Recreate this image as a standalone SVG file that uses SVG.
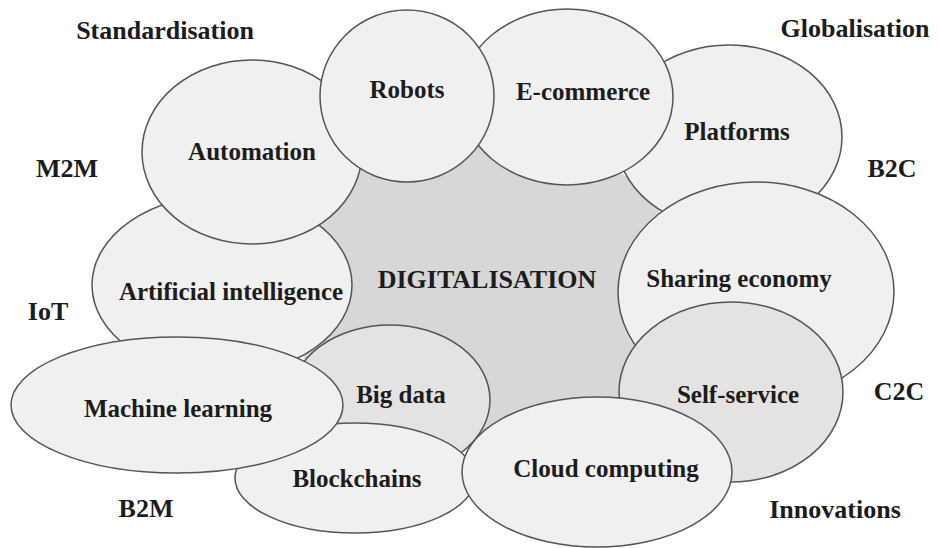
<svg xmlns="http://www.w3.org/2000/svg" width="939" height="548" viewBox="0 0 939 548">
<style>
.n{fill:#f0f0f0;stroke:#555;stroke-width:1.5}
.d{fill:#e5e2e2;stroke:#555;stroke-width:1.5}
.c{fill:#d7d7d7;stroke:none}
text{font-family:"Liberation Serif","Times New Roman",serif;font-weight:bold;fill:#1c1c1c;text-anchor:middle}
.t{font-size:25px}
.o{font-size:26px}
</style>
<rect width="939" height="548" fill="#ffffff"/>
<g id="digitalisation">
<ellipse class="c" cx="485" cy="290" rx="200" ry="160"/>
</g>
<g id="big-data">
<ellipse class="d" cx="390" cy="400" rx="100" ry="75"/>
<text class="t" x="401" y="403">Big data</text>
</g>
<g id="artificial-intelligence">
<ellipse class="n" cx="222" cy="285" rx="130" ry="90"/>
<text class="t" x="231" y="300">Artificial intelligence</text>
</g>
<g id="automation">
<ellipse class="n" cx="252" cy="152" rx="110" ry="92"/>
<text class="t" x="252" y="160">Automation</text>
</g>
<g id="blockchains">
<ellipse class="n" cx="355" cy="478" rx="120" ry="55"/>
<text class="t" x="357" y="487">Blockchains</text>
</g>
<g id="machine-learning">
<ellipse class="n" cx="177" cy="405" rx="166" ry="68"/>
<text class="t" x="178" y="417">Machine learning</text>
</g>
<g id="platforms">
<ellipse class="n" cx="729" cy="137" rx="113" ry="92"/>
<text class="t" x="737" y="140">Platforms</text>
</g>
<g id="e-commerce">
<ellipse class="n" cx="567" cy="97" rx="106" ry="88"/>
<text class="t" x="583" y="100">E-commerce</text>
</g>
<g id="robots">
<ellipse class="n" cx="407" cy="96" rx="87" ry="86"/>
<text class="t" x="407" y="98">Robots</text>
</g>
<g id="sharing-economy">
<ellipse class="n" cx="756" cy="292" rx="138" ry="110"/>
<text class="t" x="739" y="287">Sharing economy</text>
</g>
<g id="self-service">
<ellipse class="d" cx="731" cy="392" rx="112" ry="90"/>
<text class="t" x="738" y="403">Self-service</text>
</g>
<g id="cloud-computing">
<ellipse class="n" cx="597" cy="472" rx="135" ry="75"/>
<text class="t" x="606" y="477">Cloud computing</text>
</g>
<g id="digitalisation-label">
<text class="o" x="487" y="288">DIGITALISATION</text>
</g>
<g id="labels">
<text class="o" x="165" y="39">Standardisation</text>
<text class="o" x="855" y="37">Globalisation</text>
<text class="o" x="67" y="177">M2M</text>
<text class="o" x="892" y="177">B2C</text>
<text class="o" x="48" y="320">IoT</text>
<text class="o" x="899" y="400">C2C</text>
<text class="o" x="146" y="517">B2M</text>
<text class="o" x="835" y="518">Innovations</text>
</g>
</svg>
